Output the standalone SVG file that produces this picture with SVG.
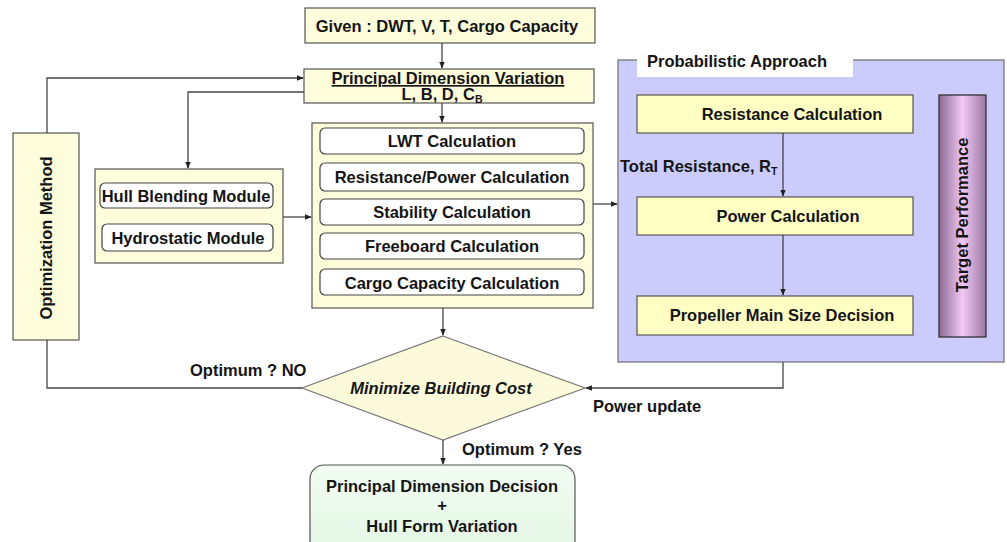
<svg xmlns="http://www.w3.org/2000/svg" width="1007" height="542" viewBox="0 0 1007 542">
<defs>
<style>
text{font-family:"Liberation Sans",Arial,sans-serif;font-weight:bold;font-size:16.5px;fill:#151515;}
.c{text-anchor:middle;}
.box{fill:#fdfddc;stroke:#555;stroke-width:1.2;}
.inner{fill:#ffffff;stroke:#444;stroke-width:1.2;}
.ybox{fill:#ffffc4;stroke:#555;stroke-width:1.2;}
.ln{fill:none;stroke:#444;stroke-width:1.3;}
.arr{fill:none;stroke:#444;stroke-width:1.3;marker-end:url(#ah);}
</style>
<marker id="ah" viewBox="0 0 10 10" refX="9" refY="5" markerWidth="7" markerHeight="7" orient="auto" markerUnits="userSpaceOnUse">
<path d="M0,1 L10,5 L0,9 z" fill="#222"/>
</marker>
<linearGradient id="tp" x1="0" y1="0" x2="1" y2="0">
<stop offset="0" stop-color="#8a6a94"/>
<stop offset="0.5" stop-color="#f2c8f4"/>
<stop offset="1" stop-color="#9a78a4"/>
</linearGradient>
<linearGradient id="gr" x1="0" y1="0" x2="0" y2="1">
<stop offset="0" stop-color="#f2fcf2"/>
<stop offset="1" stop-color="#e2f6e3"/>
</linearGradient>
</defs>
<rect width="1007" height="542" fill="#fff"/>

<g id="prob">
<rect x="618" y="60" width="386" height="302" fill="#ccccfc" stroke="#777" stroke-width="1.3"/>
<rect x="637" y="50" width="216" height="27" fill="#fff"/>
<text x="647" y="67">Probabilistic Approach</text>
</g>

<g id="given">
<rect class="box" x="305" y="8" width="290" height="35"/>
<text class="c" x="447" y="32">Given : DWT, V, T, Cargo Capacity</text>
</g>

<g id="pdv">
<rect class="box" x="304" y="69" width="290" height="34"/>
<text class="c" x="448" y="84" text-decoration="underline">Principal Dimension Variation</text>
<text class="c" x="442" y="100">L, B, D, C<tspan font-size="10.5" dy="3">B</tspan></text>
</g>

<g id="opt">
<rect class="box" x="13" y="133" width="66" height="207"/>
<text class="c" transform="translate(52,238) rotate(-90)">Optimization Method</text>
</g>

<g id="hull">
<rect class="box" x="95" y="169" width="188" height="94"/>
<rect class="inner" x="100" y="183" width="173" height="25" rx="5"/>
<text class="c" x="186" y="202">Hull Blending Module</text>
<rect class="inner" x="102" y="224" width="171" height="27" rx="5"/>
<text class="c" x="188" y="244">Hydrostatic Module</text>
</g>

<g id="calc">
<rect class="box" x="312" y="123" width="281" height="185"/>
<rect class="inner" x="320" y="128" width="264" height="26" rx="5"/>
<text class="c" x="452" y="147">LWT Calculation</text>
<rect class="inner" x="320" y="163" width="264" height="28" rx="5"/>
<text class="c" x="452" y="183">Resistance/Power Calculation</text>
<rect class="inner" x="320" y="199" width="264" height="26" rx="5"/>
<text class="c" x="452" y="218">Stability Calculation</text>
<rect class="inner" x="320" y="233" width="264" height="26" rx="5"/>
<text class="c" x="452" y="252">Freeboard Calculation</text>
<rect class="inner" x="320" y="269" width="264" height="26" rx="5"/>
<text class="c" x="452" y="289">Cargo Capacity Calculation</text>
</g>

<g id="res">
<rect class="ybox" x="637" y="95" width="276" height="38"/>
<text class="c" x="792" y="120">Resistance Calculation</text>
</g>
<g id="pow">
<rect class="ybox" x="637" y="197" width="276" height="38"/>
<text class="c" x="788" y="222">Power Calculation</text>
</g>
<g id="prop">
<rect class="ybox" x="637" y="296" width="276" height="39"/>
<text class="c" x="782" y="321">Propeller Main Size Decision</text>
</g>
<g id="target">
<rect x="939" y="95" width="47" height="242" fill="url(#tp)" stroke="#333" stroke-width="1.3"/>
<text class="c" transform="translate(968,215) rotate(-90)">Target Performance</text>
</g>

<g id="diamond">
<path d="M443,336 L585,388 L443,440 L302,388 Z" fill="#fbfbdc" stroke="#777" stroke-width="1.2"/>
<text class="c" x="441" y="394" font-style="italic">Minimize Building Cost</text>
</g>

<g id="final">
<rect x="310" y="465" width="265" height="90" rx="14" fill="url(#gr)" stroke="#555" stroke-width="1.2"/>
<text class="c" x="442" y="492">Principal Dimension Decision</text>
<text class="c" x="442" y="511">+</text>
<text class="c" x="442" y="532">Hull Form Variation</text>
</g>

<g id="connectors">
<path class="arr" d="M442,43 L442,68"/>
<path class="arr" d="M442,103 L442,122"/>
<path class="arr" d="M47,133 L47,78 L303,78"/>
<path class="arr" d="M304,92 L188,92 L188,168"/>
<path class="arr" d="M283,217 L311,217"/>
<path class="arr" d="M593,204 L617,204"/>
<path class="arr" d="M783,133 L783,196"/>
<path class="arr" d="M783,235 L783,295"/>
<path class="arr" d="M783,362 L783,388 L586,388"/>
<path class="ln" d="M47,340 L47,388 L302,388"/>
<path class="arr" d="M443,308 L443,335"/>
<path class="arr" d="M443,440 L443,464"/>
</g>

<g id="labels">
<text x="620" y="172">Total Resistance, R<tspan font-size="10.5" dy="3">T</tspan></text>
<text x="190" y="376">Optimum ? NO</text>
<text x="593" y="412">Power update</text>
<text x="462" y="455">Optimum ? Yes</text>
</g>
</svg>
